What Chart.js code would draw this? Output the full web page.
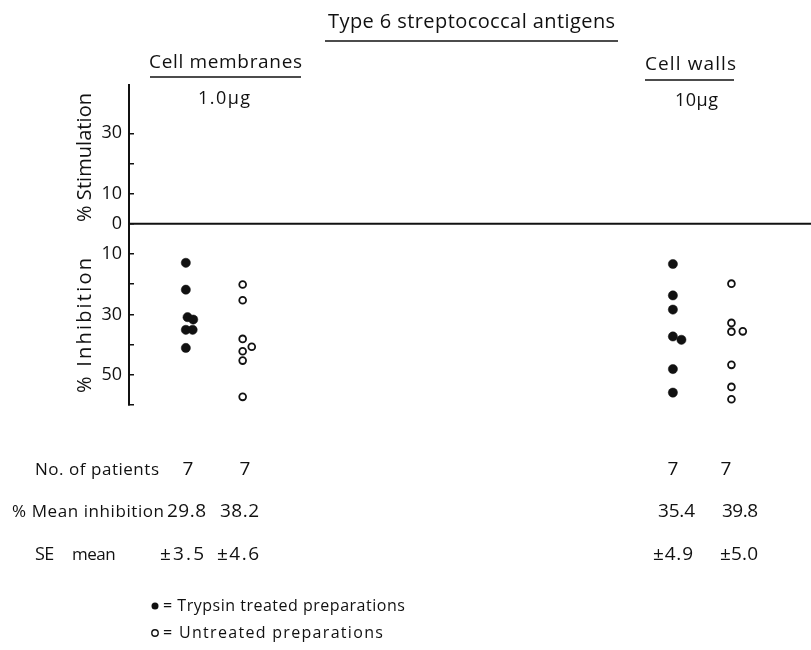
<!DOCTYPE html>
<html><head><meta charset="utf-8">
<script src="https://cdn.jsdelivr.net/npm/chart.js@4.4.1/dist/chart.umd.min.js"></script>
<style>html,body{margin:0;padding:0;background:#fff}#wrap{width:811px;height:650px;position:relative}</style>
</head><body><div id="wrap"><canvas id="c" width="811" height="650"></canvas></div>
<script>
// ---- data ----
const title = 'Type 6 streptococcal antigens';
const groups = ['Cell membranes', 'Cell walls'];
const doses = ['1.0\u03bcg', '10\u03bcg'];
const columnPos = [1, 2, 9.57, 10.6]; // membranes trypsin, membranes untreated, walls trypsin, walls untreated
const trypsinMembranes = [12.9, 21.8, 30.9, 31.7, 35.1, 35.1, 41.1];
const jitterTM = [0, 0, 0.03, 0.13, 0, 0.12, 0];
const untreatedMembranes = [20.1, 25.3, 38.1, 40.7, 42.2, 45.3, 57.3];
const jitterUM = [0, 0, 0, 0.16, 0, 0, 0];
const trypsinWalls = [13.3, 23.7, 28.4, 37.3, 38.4, 48.1, 55.9];
const jitterTW = [0, 0, 0, 0, 0.15, 0, 0];
const untreatedWalls = [19.8, 32.8, 35.7, 35.6, 46.7, 54.0, 58.1];
const jitterUW = [0, 0, 0, 0.2, 0, 0, 0];
const nPatients = ['7', '7', '7', '7'];
const meanInhibition = ['29.8', '38.2', '35.4', '39.8'];
const seMean = ['\u00b13.5', '\u00b14.6', '\u00b14.9', '\u00b15.0'];
const tickValues = [-60, -50, -40, -30, -20, -10, 0, 10, 20, 30];
const labeledTicks = [30, 10, 0, -10, -30, -50];
const legendLabels = ['= Trypsin treated preparations', '= Untreated preparations'];

const FONT = '"Open Sans", "DejaVu Sans", sans-serif';
const INK = '#111';

function pts(vals, col, jit) {
  return vals.map((v, i) => ({ x: columnPos[col] + jit[i], y: -v }));
}
const filled = { pointStyle: 'circle', pointRadius: 4.6, pointBackgroundColor: INK, pointBorderColor: INK, pointBorderWidth: 0.5 };
const open = { pointStyle: 'circle', pointRadius: 3.4, pointBackgroundColor: '#fff', pointBorderColor: INK, pointBorderWidth: 1.8 };

const textPlugin = {
  id: 'texts',
  afterDraw(chart) {
    const ctx = chart.ctx;
    ctx.save();
    ctx.fillStyle = INK; ctx.strokeStyle = INK;
    function fit(s, x1, x2, y, size) {
      ctx.font = size + 'px ' + FONT;
      ctx.letterSpacing = '0px';
      ctx.textAlign = 'left';
      ctx.textBaseline = 'middle';
      const w = ctx.measureText(s).width;
      let sp = (x2 - x1 - w) / Math.max(1, s.length - 1);
      sp = Math.max(-0.5, Math.min(3, sp));
      ctx.letterSpacing = sp.toFixed(2) + 'px';
      ctx.fillText(s, x1, y);
      ctx.letterSpacing = '0px';
    }
    function txt(s, x, y, size, align) {
      ctx.font = size + 'px ' + FONT;
      ctx.textAlign = align || 'left';
      ctx.textBaseline = 'middle';
      ctx.fillText(s, x, y);
    }
    function line(x1, y1, x2, y2, w) {
      ctx.lineWidth = w; ctx.beginPath(); ctx.moveTo(x1, y1); ctx.lineTo(x2, y2); ctx.stroke();
    }
    fit(title, 328, 615, 22, 20);
    line(325, 41, 618, 41, 1.5);
    fit(groups[0], 149, 302, 63, 19);
    line(150, 77, 301, 77, 1.5);
    fit(doses[0], 198, 250, 99, 18);
    fit(groups[1], 645, 736, 65, 19);
    line(645, 80, 734, 80, 1.5);
    fit(doses[1], 675, 718, 101, 18);
    ctx.save(); ctx.translate(85, 222); ctx.rotate(-Math.PI / 2); fit('% Stimulation', 0, 129, 0, 20); ctx.restore();
    ctx.save(); ctx.translate(85, 393); ctx.rotate(-Math.PI / 2); fit('% Inhibition', 0, 135, 0, 20); ctx.restore();
    const colTxt = [188, 245, 673, 726];
    fit('No. of patients', 35, 159, 470, 17);
    nPatients.forEach((s, i) => txt(s, colTxt[i], 470, 19, 'center'));
    fit('% Mean inhibition', 12, 164, 512, 17);
    const meanX = [[167, 206], [220, 259], [658, 695], [722, 758]];
    meanInhibition.forEach((s, i) => fit(s, meanX[i][0], meanX[i][1], 512, 19));
    fit('SE', 35, 54, 555, 18);
    fit('mean', 72, 115, 555, 17);
    const seX = [[160, 204], [217, 259], [653, 693], [720, 758]];
    seMean.forEach((s, i) => fit(s, seX[i][0], seX[i][1], 555, 19));
    ctx.beginPath(); ctx.arc(155, 606, 3.5, 0, Math.PI * 2); ctx.fill();
    fit(legendLabels[0], 163, 405, 606, 16);
    ctx.lineWidth = 1.4; ctx.beginPath(); ctx.arc(155, 633, 3.2, 0, Math.PI * 2); ctx.stroke();
    fit(legendLabels[1], 163, 383, 633, 16);
    ctx.restore();
  }
};

new Chart(document.getElementById('c'), {
  type: 'scatter',
  data: {
    datasets: [
      { label: 'zero', type: 'line', data: [{ x: 0, y: 0 }, { x: 12, y: 0 }], borderColor: INK, borderWidth: 2, pointRadius: 0, order: 5 },
      Object.assign({ label: 'Membranes trypsin', data: pts(trypsinMembranes, 0, jitterTM) }, filled),
      Object.assign({ label: 'Membranes untreated', data: pts(untreatedMembranes, 1, jitterUM) }, open),
      Object.assign({ label: 'Walls trypsin', data: pts(trypsinWalls, 2, jitterTW) }, filled),
      Object.assign({ label: 'Walls untreated', data: pts(untreatedWalls, 3, jitterUW) }, open)
    ]
  },
  options: {
    responsive: false, animation: false, devicePixelRatio: 1,
    layout: { autoPadding: false, padding: { left: 0, top: 85, right: 0, bottom: 245 } },
    plugins: { legend: { display: false }, tooltip: { enabled: false } },
    scales: {
      x: { type: 'linear', min: 0, max: 12, display: false, ticks: { display: false }, grid: { display: false } },
      y: {
        type: 'linear', min: -60, max: 46, position: 'left',
        afterFit(s) { s.width = 129; },
        afterBuildTicks(s) { s.ticks = tickValues.map(v => ({ value: v })); },
        ticks: {
          autoSkip: false, color: INK, padding: 12,
          font: { family: FONT, size: 18 },
          callback: v => labeledTicks.includes(v) ? String(Math.abs(v)) : ''
        },
        grid: { drawOnChartArea: false, drawTicks: true, tickLength: -5, color: INK, lineWidth: 1.5 },
        border: { display: true, color: INK, width: 2 }
      }
    }
  },
  plugins: [textPlugin]
});
</script></body></html>
